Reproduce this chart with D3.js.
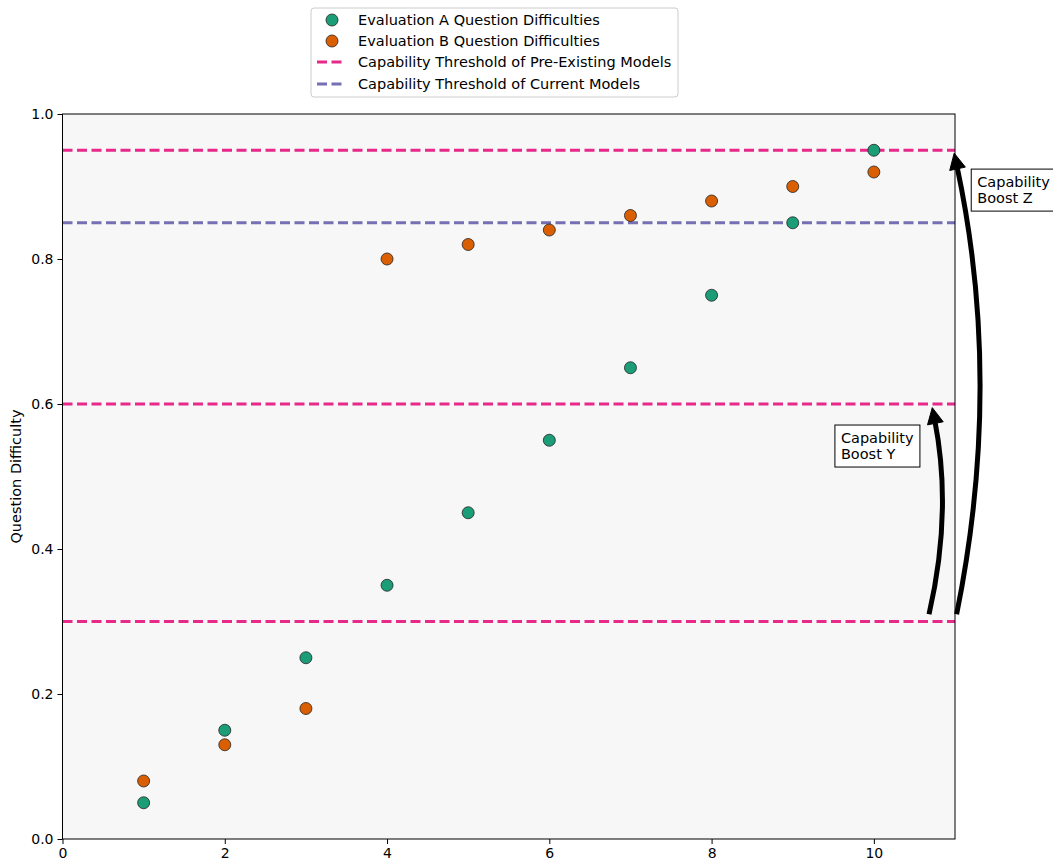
<!DOCTYPE html>
<html><head><meta charset="utf-8">
<script src="https://cdn.jsdelivr.net/npm/d3@7"></script>
<style>body{margin:0;background:#fff}svg{display:block;font-family:"DejaVu Sans",sans-serif}</style>
</head><body><svg id="c" width="1053" height="865"></svg>
<script>
const xsA = [1,2,3,4,5,6,7,8,9,10];
const evalA = [0.05,0.15,0.25,0.35,0.45,0.55,0.65,0.75,0.85,0.95];
const xsB = [1,2,3,4,5,6,7,8,9,10];
const evalB = [0.08,0.13,0.18,0.80,0.82,0.84,0.86,0.88,0.90,0.92];
const preExisting = [0.3,0.6,0.95];
const current = [0.85];
const xTicks = [0,2,4,6,8,10];
const yTicks = [0,0.2,0.4,0.6,0.8,1.0];
const legendLabels = ["Evaluation A Question Difficulties","Evaluation B Question Difficulties","Capability Threshold of Pre-Existing Models","Capability Threshold of Current Models"];
const arrows = [{label:"Capability\nBoost Y", from:[10.68,0.31], to:[10.72,0.595], bend:11, box:[9.52,0.571]},
                {label:"Capability\nBoost Z", from:[11.02,0.31], to:[10.99,0.946], bend:24, box:[11.2,0.924]}];

const svg = d3.select("#c");
const L=62.5,R=955,T=114,B=839;
const FS=14.5;
const x = d3.scaleLinear().domain([0,11]).range([L,R]);
const y = d3.scaleLinear().domain([0,1]).range([B,T]);
svg.append("rect").attr("x",L).attr("y",T).attr("width",R-L).attr("height",B-T).attr("fill","#f7f7f7");

const g = svg.append("g");
preExisting.forEach(v=>g.append("line").attr("x1",L).attr("x2",R).attr("y1",y(v)).attr("y2",y(v))
  .attr("stroke","#e7298a").attr("stroke-width",3).attr("stroke-dasharray","10,4.5"));
current.forEach(v=>g.append("line").attr("x1",L).attr("x2",R).attr("y1",y(v)).attr("y2",y(v))
  .attr("stroke","#7570b3").attr("stroke-width",3).attr("stroke-dasharray","10,4.5"));

g.selectAll(".a").data(xsA.map((d,i)=>[d,evalA[i]])).join("circle")
  .attr("cx",d=>x(d[0])).attr("cy",d=>y(d[1])).attr("r",6).attr("fill","#1b9e77").attr("stroke","#222").attr("stroke-width",0.8);
g.selectAll(".b").data(xsB.map((d,i)=>[d,evalB[i]])).join("circle")
  .attr("cx",d=>x(d[0])).attr("cy",d=>y(d[1])).attr("r",6).attr("fill","#d95f02").attr("stroke","#222").attr("stroke-width",0.8);

// axes
const xa = svg.append("g").attr("transform",`translate(0,${B})`).call(d3.axisBottom(x).tickValues(xTicks).tickFormat(d3.format("d")).tickSize(5).tickPadding(4));
const ya = svg.append("g").attr("transform",`translate(${L},0)`).call(d3.axisLeft(y).tickValues(yTicks).tickFormat(d3.format(".1f")).tickSize(5).tickPadding(4));
[xa,ya].forEach(a=>{a.select(".domain").remove();a.selectAll("text").attr("font-size",14).attr("fill","#000").attr("font-family","DejaVu Sans");a.selectAll("line").attr("stroke","#000").attr("stroke-width",1);});
svg.append("rect").attr("x",L).attr("y",T).attr("width",R-L).attr("height",B-T).attr("fill","none").attr("stroke","#000").attr("stroke-width",1);
svg.append("text").attr("transform",`translate(21,${(T+B)/2}) rotate(-90)`).attr("text-anchor","middle").attr("font-size",FS).text("Question Difficulty");

// arrows
arrows.forEach(a=>{
  const x0=x(a.from[0]),y0=y(a.from[1]),x1=x(a.to[0]),y1=y(a.to[1]);
  const mx=(x0+x1)/2,my=(y0+y1)/2;
  const dx=x1-x0,dy=y1-y0,len=Math.hypot(dx,dy);
  const nx=-dy/len,ny=dx/len;
  const s = nx>0?1:-1;
  const cx=mx+s*nx*a.bend*2, cy=my+s*ny*a.bend*2;
  const tx=x1-cx,ty=y1-cy,tl=Math.hypot(tx,ty);
  const ux=tx/tl,uy=ty/tl;
  const hl=16,hw=8;
  const ex=x1-ux*hl*0.8,ey=y1-uy*hl*0.8;
  svg.append("path").attr("d",`M${x0},${y0} Q${cx},${cy} ${ex},${ey}`).attr("fill","none").attr("stroke","#000").attr("stroke-width",5);
  const bx=x1-ux*hl,by=y1-uy*hl;
  svg.append("path").attr("d",`M${x1},${y1} L${bx-uy*hw},${by+ux*hw} L${bx+uy*hw},${by-ux*hw} Z`).attr("fill","#000").attr("stroke","#000").attr("stroke-width",1);
  const lines=a.label.split("\n");
  const bxp=x(a.box[0]), byp=y(a.box[1]);
  svg.append("rect").attr("x",bxp).attr("y",byp).attr("width",85).attr("height",42).attr("fill","#fff").attr("stroke","#000").attr("stroke-width",1);
  lines.forEach((t,i)=>svg.append("text").attr("x",bxp+6).attr("y",byp+18+i*16).attr("font-size",FS).text(t));
});

// legend
const lg = svg.append("g");
lg.append("rect").attr("x",311).attr("y",8).attr("width",367).attr("height",89).attr("rx",3).attr("fill","#fff").attr("stroke","#ccc").attr("stroke-width",1);
const ly=[20,41,62,84];
const markers=[["c","#1b9e77"],["c","#d95f02"],["l","#e7298a"],["l","#7570b3"]];
legendLabels.forEach((t,i)=>{
  const m=markers[i];
  if(m[0]==="c") lg.append("circle").attr("cx",332).attr("cy",ly[i]).attr("r",6).attr("fill",m[1]).attr("stroke","#222").attr("stroke-width",0.8);
  else lg.append("line").attr("x1",317).attr("x2",345).attr("y1",ly[i]).attr("y2",ly[i]).attr("stroke",m[1]).attr("stroke-width",3).attr("stroke-dasharray","10,4.5");
  lg.append("text").attr("x",358).attr("y",ly[i]+5).attr("font-size",FS).text(t);
});
</script></body></html>
